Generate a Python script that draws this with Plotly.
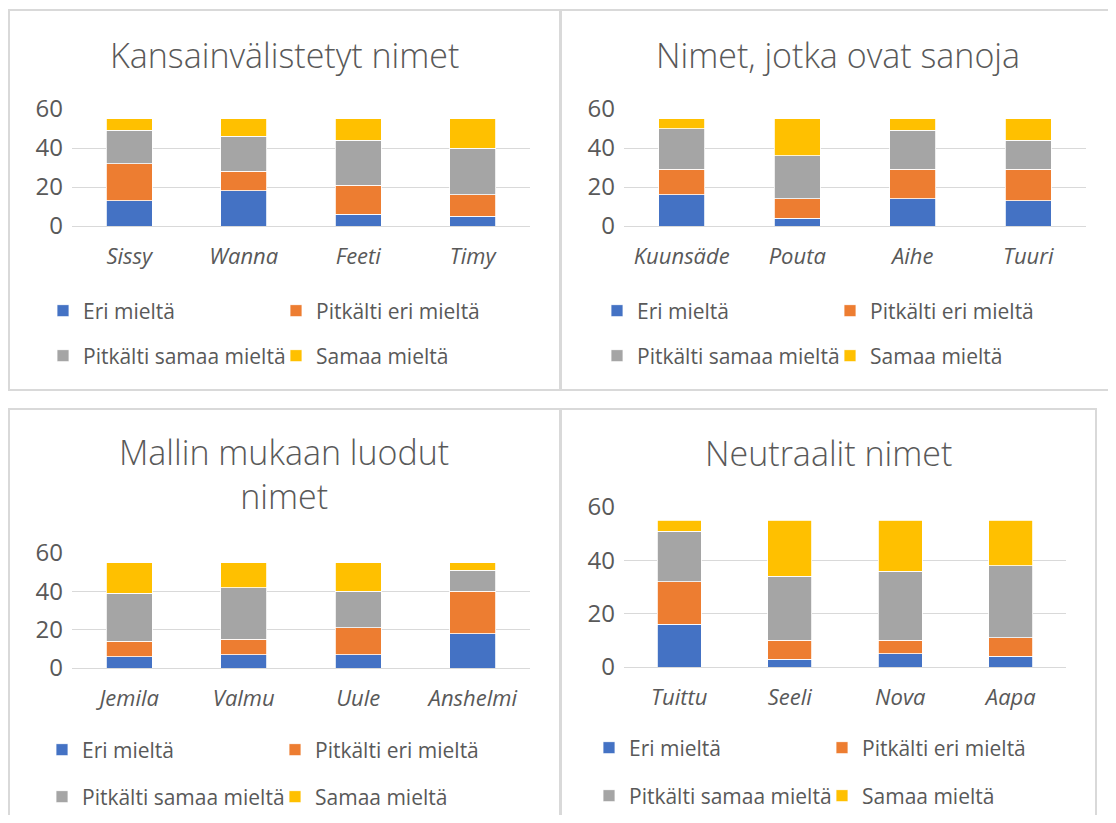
import plotly.graph_objects as go

# The page body adds an 8px margin, so the figure covers reference pixels 8..1108 x 8..815
OFF = 8
FW, FH = 1100, 807

# ---------------- data ----------------
series_names = ["Eri mieltä", "Pitkälti eri mieltä", "Pitkälti samaa mieltä", "Samaa mieltä"]
series_colors = ["#4472C4", "#ED7D31", "#A5A5A5", "#FFC000"]

titles = ["Kansainvälistetyt nimet", "Nimet, jotka ovat sanoja",
          "Mallin mukaan luodut<br>nimet", "Neutraalit nimet"]

categories1 = ["Sissy", "Wanna", "Feeti", "Timy"]
eri1 = [13, 18, 6, 5]
pitkalti_eri1 = [19, 10, 15, 11]
pitkalti_samaa1 = [17, 18, 23, 24]
samaa1 = [6, 9, 11, 15]

categories2 = ["Kuunsäde", "Pouta", "Aihe", "Tuuri"]
eri2 = [16, 4, 14, 13]
pitkalti_eri2 = [13, 10, 15, 16]
pitkalti_samaa2 = [21, 22, 20, 15]
samaa2 = [5, 19, 6, 11]

categories3 = ["Jemila", "Valmu", "Uule", "Anshelmi"]
eri3 = [6, 7, 7, 18]
pitkalti_eri3 = [8, 8, 14, 22]
pitkalti_samaa3 = [25, 27, 19, 11]
samaa3 = [16, 13, 15, 4]

categories4 = ["Tuittu", "Seeli", "Nova", "Aapa"]
eri4 = [16, 3, 5, 4]
pitkalti_eri4 = [16, 7, 5, 7]
pitkalti_samaa4 = [19, 24, 26, 27]
samaa4 = [4, 21, 19, 17]

y_ticks = [0, 20, 40, 60]

charts = [
    (categories1, [eri1, pitkalti_eri1, pitkalti_samaa1, samaa1]),
    (categories2, [eri2, pitkalti_eri2, pitkalti_samaa2, samaa2]),
    (categories3, [eri3, pitkalti_eri3, pitkalti_samaa3, samaa3]),
    (categories4, [eri4, pitkalti_eri4, pitkalti_samaa4, samaa4]),
]

# ---------------- layout geometry (reference pixels) ----------------
FONT = "Open Sans"
TXT = "#595959"

def fx(x):
    return (x - OFF) / FW

def fy(y):
    return 1 - (y - OFF) / FH

# plot areas: (x0, x1, y_top, y_bottom)
plot_areas = [
    (72, 530, 109, 226),
    (624, 1086, 109, 226),
    (72, 530, 553, 668),
    (624, 1066, 507, 667),
]
# title centres (x, y)
title_pos = [(284, 55), (838, 55), (284, 474), (828, 453)]
# legend: text-start x, row1 y, row2 y
legend_pos = [(82, 311, 356), (636, 311, 356), (81, 750, 797), (628, 748, 796)]
# boxes
boxes = [(9, 10, 560, 390), (561, 10, 1130, 390), (9, 409, 560, 840), (561, 409, 1096, 840)]

fig = go.Figure()
layout = dict(
    width=FW, height=FH,
    margin=dict(l=0, r=0, t=0, b=0, autoexpand=False),
    paper_bgcolor="white", plot_bgcolor="white",
    barmode="stack", bargap=0.6,
    font=dict(family=FONT, color=TXT, size=21),
    annotations=[], shapes=[],
)

for i, (cats, vals) in enumerate(charts):
    n = i + 1
    xa = "x" if n == 1 else f"x{n}"
    ya = "y" if n == 1 else f"y{n}"
    leg_a = "legend" if 2 * i + 1 == 1 else f"legend{2 * i + 1}"
    leg_b = f"legend{2 * i + 2}"
    for s, (name, color, v) in enumerate(zip(series_names, series_colors, vals)):
        fig.add_trace(go.Bar(
            x=cats, y=v, name=name, xaxis=xa, yaxis=ya,
            marker=dict(color=color, line=dict(color="white", width=0.8)),
            legend=leg_a if s < 2 else leg_b,
            legendgroup=f"c{n}",
            hoverinfo="x+y+name",
        ))
    x0, x1, yt, yb = plot_areas[i]
    layout["xaxis" if n == 1 else f"xaxis{n}"] = dict(
        domain=[fx(x0), fx(x1)], anchor=ya,
        showgrid=False, showline=False, zeroline=False, ticks="",
        tickfont=dict(family=FONT, size=22, color=TXT, style="italic"),
        ticklabelstandoff=15, fixedrange=True,
    )
    layout["yaxis" if n == 1 else f"yaxis{n}"] = dict(
        domain=[fy(yb), fy(yt)], anchor=xa,
        range=[0, 60], tickvals=y_ticks,
        showgrid=True, gridcolor="#D9D9D9", gridwidth=1.3,
        zeroline=True, zerolinecolor="#D9D9D9", zerolinewidth=1.3,
        showline=False, ticks="",
        tickfont=dict(family=FONT, size=24, color=TXT),
        ticklabelstandoff=8, fixedrange=True,
    )
    tx, ty = title_pos[i]
    layout["annotations"].append(dict(
        text=titles[i], x=fx(tx), y=fy(ty), xref="paper", yref="paper",
        xanchor="center", yanchor="middle", showarrow=False,
        font=dict(family=FONT, size=34, color=TXT, weight=300),
    ))
    lx, r1, r2 = legend_pos[i]
    for key, ry in ((leg_a, r1), (leg_b, r2)):
        layout[key] = dict(
            orientation="h", x=fx(lx - 39), y=fy(ry),
            xanchor="left", yanchor="middle",
            entrywidth=188, entrywidthmode="pixels",
            font=dict(family=FONT, size=21, color=TXT),
            bgcolor="rgba(0,0,0,0)", traceorder="normal",
            itemclick=False, itemdoubleclick=False,
        )
    bx0, by0, bx1, by1 = boxes[i]
    layout["shapes"].append(dict(
        type="rect", xref="paper", yref="paper",
        x0=fx(bx0), x1=fx(bx1), y0=fy(by1), y1=fy(by0),
        line=dict(color="#D9D9D9", width=2), fillcolor="rgba(0,0,0,0)", layer="below",
    ))

fig.update_layout(**layout)
fig.write_html("out.html")
